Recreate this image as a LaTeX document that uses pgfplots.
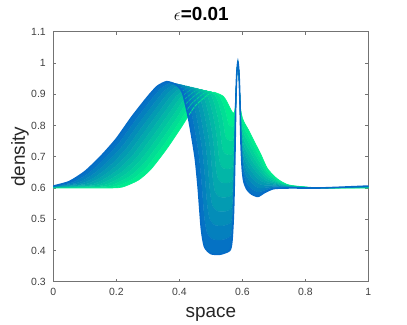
\documentclass[border=0pt]{standalone}
\usepackage{pgfplots}
\pgfplotsset{compat=1.18}
\usepackage{pgfplotstable}
\usepgfplotslibrary{fillbetween}
\usepackage{fontspec}
\setmainfont{Liberation Sans}

\definecolor{cA}{rgb}{0.0,0.95,0.55}
\definecolor{cB}{rgb}{0.02,0.42,0.78}
\definecolor{axgray}{gray}{0.45}

% density profiles, one x/y column pair per time step (0 = first, 10 = last)
\pgfplotstableread{
x0 x1 x2 x3 x4 x5 x6 x7 x8 x9 x10 y0 y1 y2 y3 y4 y5 y6 y7 y8 y9 y10
0 0 0 0 0 0 0 0 0 0 0 0.6000 0.6006 0.6012 0.6018 0.6024 0.6030 0.6036 0.6042 0.6048 0.6054 0.6060
0.180 0.167 0.154 0.141 0.128 0.115 0.102 0.089 0.076 0.063 0.050 0.600 0.602 0.604 0.606 0.608 0.610 0.612 0.614 0.616 0.618 0.620
0.220 0.208 0.196 0.184 0.172 0.160 0.148 0.136 0.124 0.112 0.100 0.6030 0.6079 0.6128 0.6177 0.6226 0.6275 0.6324 0.6373 0.6422 0.6471 0.6520
0.270 0.258 0.246 0.234 0.222 0.210 0.198 0.186 0.174 0.162 0.150 0.6250 0.6325 0.6400 0.6475 0.6550 0.6625 0.6700 0.6775 0.6850 0.6925 0.7000
0.310 0.299 0.288 0.277 0.266 0.255 0.244 0.233 0.222 0.211 0.200 0.6600 0.6697 0.6794 0.6891 0.6988 0.7085 0.7182 0.7279 0.7376 0.7473 0.7570
0.360 0.349 0.338 0.327 0.316 0.305 0.294 0.283 0.272 0.261 0.250 0.7250 0.7353 0.7456 0.7559 0.7662 0.7765 0.7868 0.7971 0.8074 0.8177 0.8280
0.410 0.399 0.388 0.377 0.366 0.355 0.344 0.333 0.322 0.311 0.300 0.8000 0.8092 0.8184 0.8276 0.8368 0.8460 0.8552 0.8644 0.8736 0.8828 0.8920
0.450 0.438 0.426 0.414 0.402 0.390 0.378 0.366 0.354 0.342 0.330 0.8620 0.8683 0.8746 0.8809 0.8872 0.8935 0.8998 0.9061 0.9124 0.9187 0.9250
0.500 0.486 0.472 0.458 0.444 0.430 0.416 0.402 0.388 0.374 0.360 0.9050 0.9085 0.9120 0.9155 0.9190 0.9225 0.9260 0.9295 0.9330 0.9365 0.9400
0.520 0.507 0.494 0.481 0.468 0.455 0.442 0.429 0.416 0.403 0.390 0.9030 0.9057 0.9084 0.9111 0.9138 0.9165 0.9192 0.9219 0.9246 0.9273 0.9300
0.540 0.527 0.514 0.501 0.488 0.475 0.462 0.449 0.436 0.423 0.410 0.8930 0.8942 0.8954 0.8966 0.8978 0.8990 0.9002 0.9014 0.9026 0.9038 0.9050
0.550 0.538 0.526 0.514 0.502 0.490 0.478 0.466 0.454 0.442 0.430 0.8780 0.8722 0.8664 0.8606 0.8548 0.8490 0.8432 0.8374 0.8316 0.8258 0.8200
0.5560 0.5454 0.5348 0.5242 0.5136 0.5030 0.4924 0.4818 0.4712 0.4606 0.4500 0.8660 0.8494 0.8328 0.8162 0.7996 0.7830 0.7664 0.7498 0.7332 0.7166 0.7000
0.560 0.550 0.540 0.530 0.520 0.510 0.500 0.490 0.480 0.470 0.460 0.8580 0.8322 0.8064 0.7806 0.7548 0.7290 0.7032 0.6774 0.6516 0.6258 0.6000
0.5630 0.5537 0.5444 0.5351 0.5258 0.5165 0.5072 0.4979 0.4886 0.4793 0.4700 0.8520 0.8138 0.7756 0.7374 0.6992 0.6610 0.6228 0.5846 0.5464 0.5082 0.4700
0.5650 0.5565 0.5480 0.5395 0.5310 0.5225 0.5140 0.5055 0.4970 0.4885 0.4800 0.8480 0.8044 0.7608 0.7172 0.6736 0.6300 0.5864 0.5428 0.4992 0.4556 0.4120
0.5670 0.5603 0.5536 0.5469 0.5402 0.5335 0.5268 0.5201 0.5134 0.5067 0.5000 0.8450 0.7995 0.7540 0.7085 0.6630 0.6175 0.5720 0.5265 0.4810 0.4355 0.3900
0.5690 0.5651 0.5612 0.5573 0.5534 0.5495 0.5456 0.5417 0.5378 0.5339 0.5300 0.8420 0.7966 0.7512 0.7058 0.6604 0.6150 0.5696 0.5242 0.4788 0.4334 0.3880
0.5710 0.5699 0.5688 0.5677 0.5666 0.5655 0.5644 0.5633 0.5622 0.5611 0.5600 0.8400 0.7960 0.7520 0.7080 0.6640 0.6200 0.5760 0.5320 0.4880 0.4440 0.4000
0.5730 0.5724 0.5718 0.5712 0.5706 0.5700 0.5694 0.5688 0.5682 0.5676 0.5670 0.8400 0.7990 0.7580 0.7170 0.6760 0.6350 0.5940 0.5530 0.5120 0.4710 0.4300
0.5750 0.5747 0.5744 0.5741 0.5738 0.5735 0.5732 0.5729 0.5726 0.5723 0.5720 0.8430 0.8107 0.7784 0.7461 0.7138 0.6815 0.6492 0.6169 0.5846 0.5523 0.5200
0.5770 0.5769 0.5768 0.5767 0.5766 0.5765 0.5764 0.5763 0.5762 0.5761 0.5760 0.8550 0.8375 0.8200 0.8025 0.7850 0.7675 0.7500 0.7325 0.7150 0.6975 0.6800
0.5795 0.5795 0.5795 0.5795 0.5795 0.5795 0.5795 0.5795 0.5795 0.5795 0.5795 0.880 0.880 0.880 0.880 0.880 0.880 0.880 0.880 0.880 0.880 0.880
0.5825 0.5825 0.5825 0.5825 0.5825 0.5825 0.5825 0.5825 0.5825 0.5825 0.5825 0.965 0.965 0.965 0.965 0.965 0.965 0.965 0.965 0.965 0.965 0.965
0.5860 0.5860 0.5860 0.5860 0.5860 0.5860 0.5860 0.5860 0.5860 0.5860 0.5860 1.003 1.003 1.003 1.003 1.003 1.003 1.003 1.003 1.003 1.003 1.003
0.5895 0.5895 0.5895 0.5895 0.5895 0.5895 0.5895 0.5895 0.5895 0.5895 0.5895 0.965 0.965 0.965 0.965 0.965 0.965 0.965 0.965 0.965 0.965 0.965
0.5925 0.5925 0.5925 0.5925 0.5925 0.5925 0.5925 0.5925 0.5925 0.5925 0.5925 0.880 0.880 0.880 0.880 0.880 0.880 0.880 0.880 0.880 0.880 0.880
0.5950 0.5951 0.5952 0.5953 0.5954 0.5955 0.5956 0.5957 0.5958 0.5959 0.5960 0.850 0.839 0.828 0.817 0.806 0.795 0.784 0.773 0.762 0.751 0.740
0.600 0.600 0.600 0.600 0.600 0.600 0.600 0.600 0.600 0.600 0.600 0.8250 0.8085 0.7920 0.7755 0.7590 0.7425 0.7260 0.7095 0.6930 0.6765 0.6600
0.6070 0.6068 0.6066 0.6064 0.6062 0.6060 0.6058 0.6056 0.6054 0.6052 0.6050 0.8080 0.7892 0.7704 0.7516 0.7328 0.7140 0.6952 0.6764 0.6576 0.6388 0.6200
0.6200 0.6195 0.6190 0.6185 0.6180 0.6175 0.6170 0.6165 0.6160 0.6155 0.6150 0.785 0.766 0.747 0.728 0.709 0.690 0.671 0.652 0.633 0.614 0.595
0.640 0.639 0.638 0.637 0.636 0.635 0.634 0.633 0.632 0.631 0.630 0.7450 0.7285 0.7120 0.6955 0.6790 0.6625 0.6460 0.6295 0.6130 0.5965 0.5800
0.660 0.659 0.658 0.657 0.656 0.655 0.654 0.653 0.652 0.651 0.650 0.7050 0.6918 0.6786 0.6654 0.6522 0.6390 0.6258 0.6126 0.5994 0.5862 0.5730
0.680 0.679 0.678 0.677 0.676 0.675 0.674 0.673 0.672 0.671 0.670 0.6620 0.6543 0.6466 0.6389 0.6312 0.6235 0.6158 0.6081 0.6004 0.5927 0.5850
0.710 0.709 0.708 0.707 0.706 0.705 0.704 0.703 0.702 0.701 0.700 0.6300 0.6268 0.6236 0.6204 0.6172 0.6140 0.6108 0.6076 0.6044 0.6012 0.5980
0.750 0.750 0.750 0.750 0.750 0.750 0.750 0.750 0.750 0.750 0.750 0.6090 0.6081 0.6072 0.6063 0.6054 0.6045 0.6036 0.6027 0.6018 0.6009 0.6000
0.850 0.850 0.850 0.850 0.850 0.850 0.850 0.850 0.850 0.850 0.850 0.600 0.600 0.600 0.600 0.600 0.600 0.600 0.600 0.600 0.600 0.600
1 1 1 1 1 1 1 1 1 1 1 0.6000 0.6006 0.6012 0.6018 0.6024 0.6030 0.6036 0.6042 0.6048 0.6054 0.6060
}\prof

\begin{document}
\begin{tikzpicture}
\begin{axis}[
    scale only axis,
    width=315bp, height=250bp,
    xmin=0, xmax=1, ymin=0.3, ymax=1.1,
    xtick={0,0.2,0.4,0.6,0.8,1},
    ytick={0.3,0.4,0.5,0.6,0.7,0.8,0.9,1,1.1},
    tick align=inside, tick pos=both,
    major tick length=3bp,
    axis line style={axgray},
    tick style={axgray, line width=0.5pt},
    /pgf/number format/assume math mode=true,
    every tick label/.append style={font=\fontsize{10.5}{12}\selectfont, text=black!75},
    yticklabel style={xshift=-4bp},
    xticklabel style={yshift=-3bp},
    xlabel={space}, ylabel={density},
    label style={font=\fontsize{19}{22}\selectfont, text=black!85},
    xlabel style={at={(axis description cs:0.5,-0.145)}, anchor=base},
    ylabel style={at={(axis description cs:-0.09,0.5)}, anchor=base},
    every axis plot/.append style={smooth, tension=0.4},
]

% invisible copies, used as borders of the fills
\pgfplotsinvokeforeach{0,...,10}{
  \addplot[draw=none, name path=p#1] table[x=x#1, y=y#1]{\prof};
}

\addplot[cA, line width=0.7pt] table[x=x0, y=y0]{\prof};
\addplot[cB!5!cA] fill between[of=p0 and p1];
\addplot[cB!10!cA, line width=0.5pt] table[x=x1, y=y1]{\prof};
\addplot[cB!15!cA] fill between[of=p1 and p2];
\addplot[cB!20!cA, line width=0.5pt] table[x=x2, y=y2]{\prof};
\addplot[cB!25!cA] fill between[of=p2 and p3];
\addplot[cB!30!cA, line width=0.5pt] table[x=x3, y=y3]{\prof};
\addplot[cB!35!cA] fill between[of=p3 and p4];
\addplot[cB!40!cA, line width=0.5pt] table[x=x4, y=y4]{\prof};
\addplot[cB!45!cA] fill between[of=p4 and p5];
\addplot[cB!50!cA, line width=0.5pt] table[x=x5, y=y5]{\prof};
\addplot[cB!55!cA] fill between[of=p5 and p6];
\addplot[cB!60!cA, line width=0.5pt] table[x=x6, y=y6]{\prof};
\addplot[cB!65!cA] fill between[of=p6 and p7];
\addplot[cB!70!cA, line width=0.5pt] table[x=x7, y=y7]{\prof};
\addplot[cB!75!cA] fill between[of=p7 and p8];
\addplot[cB!80!cA, line width=0.5pt] table[x=x8, y=y8]{\prof};
\addplot[cB!85!cA] fill between[of=p8 and p9];
\addplot[cB!90!cA, line width=0.5pt] table[x=x9, y=y9]{\prof};
\addplot[cB!95!cA] fill between[of=p9 and p10];
\addplot[cB, line width=1.6pt] table[x=x10, y=y10]{\prof};

\end{axis}
% title
\node[anchor=base, font=\fontsize{19}{22}\selectfont, inner sep=0pt]
    at ([xshift=-9.5bp, yshift=10.7bp]current axis.north) {$\epsilon$\textbf{=0.01}};
\pgfresetboundingbox
\path[use as bounding box] ([xshift=-53.3bp,yshift=-43.3bp]current axis.south west)
    rectangle ([xshift=38.7bp,yshift=31.7bp]current axis.north east);
\end{tikzpicture}
\end{document}
